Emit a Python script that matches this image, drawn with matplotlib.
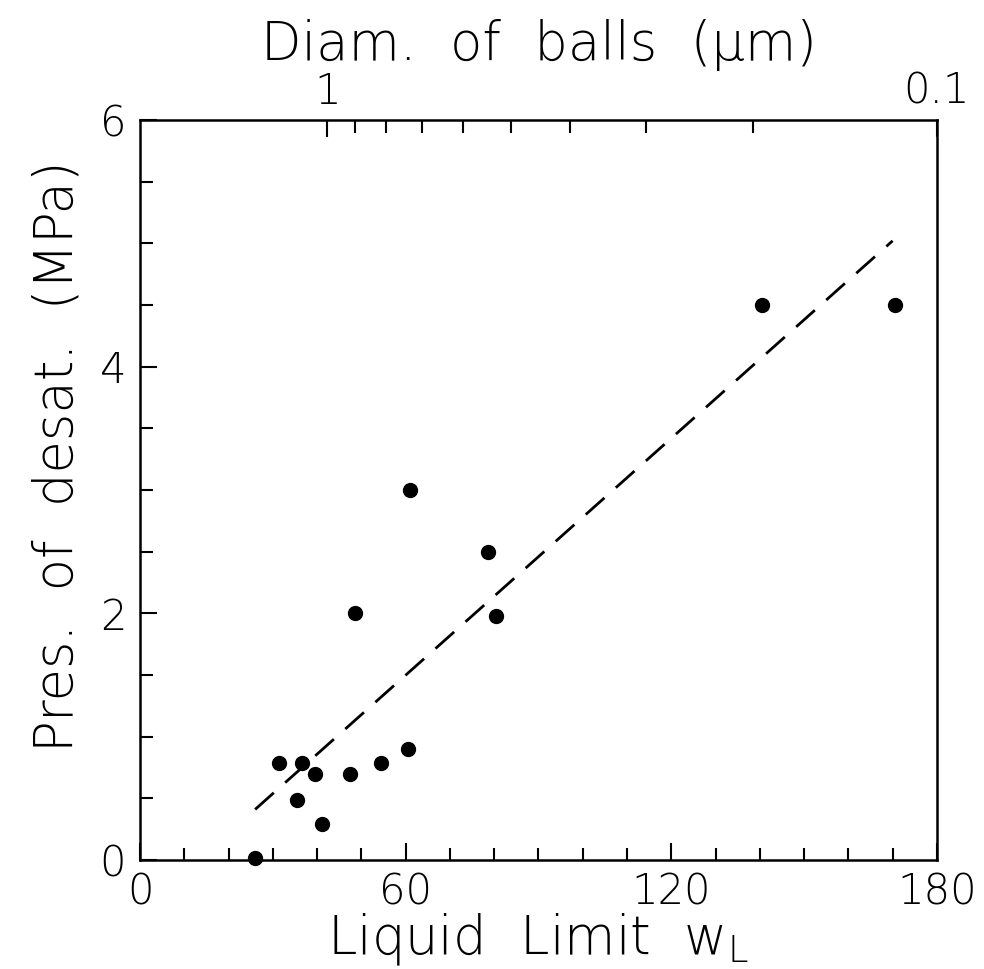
import numpy as np
import matplotlib
matplotlib.use('Agg')
import matplotlib.pyplot as plt

matplotlib.rcParams.update({
    'font.family': 'DejaVu Sans',
    'font.weight': 'light',
    'axes.labelweight': 'light',
    'font.size': 30,
})

# liquid limit (%) and pressure of desaturation (MPa)
liquid_limit = [26, 31.5, 35.5, 36.5, 39.5, 41, 47.5, 48.5, 54.5, 60.5, 61, 78.5, 80.5, 140.5, 170.5]
pres_desat = [0.02, 0.79, 0.49, 0.79, 0.70, 0.29, 0.70, 2.0, 0.79, 0.90, 3.0, 2.5, 1.98, 4.5, 4.5]

# dashed trend line end points
trend_x = [26, 170]
trend_y = [0.41, 5.02]

# top axis: ball diameter (um), log scale, d = 1 at wL = 42.3, d = 0.1 at wL = 180
d_left = 10 ** (42.3 / 137.7)
d_right = 0.1
top_major = [1, 0.1]
top_labels = ['1', '0.1']
top_minor = [0.9, 0.8, 0.7, 0.6, 0.5, 0.4, 0.3, 0.2]

rect = [0.1423, 0.1125, 0.8098, 0.7637]
fig = plt.figure(figsize=(9.84, 9.69), dpi=100)
ax = fig.add_axes(rect)

ax.plot(trend_x, trend_y, color='black', lw=2.0, linestyle=(0, (9, 5.5)))
ax.plot(liquid_limit, pres_desat, 'o', color='black', markersize=10, clip_on=False)

ax.set_xlim(0, 180)
ax.set_ylim(0, 6)
ax.set_xticks([0, 60, 120, 180])
ax.set_xticks(np.arange(0, 181, 10), minor=True)
ax.set_yticks([0, 2, 4, 6])
ax.set_yticks(np.arange(0, 6.01, 0.5), minor=True)
ax.tick_params(which='both', direction='in', width=1.5, colors='black',
               top=False, right=False, labeltop=False, labelright=False)
ax.tick_params(which='major', length=12)
ax.tick_params(which='minor', length=9)
ax.tick_params(axis='x', pad=8)
ax.tick_params(axis='y', pad=10)
for s in ax.spines.values():
    s.set_linewidth(1.8)

ax.set_xlabel('Liquid  Limit  w$_\\mathregular{L}$', fontsize=38, labelpad=0)
ax.set_ylabel('Pres.  of  desat.  (MPa)', fontsize=38)
ax.yaxis.set_label_coords(-0.07, 0.545)

# separate overlay axes for the ball diameter scale on top
ax2 = fig.add_axes(rect, frameon=False)
ax2.patch.set_visible(False)
ax2.set_xscale('log')
ax2.set_xlim(d_left, d_right)
ax2.xaxis.set_ticks_position('top')
ax2.xaxis.set_label_position('top')
ax2.set_xticks(top_major)
ax2.set_xticklabels(top_labels)
ax2.set_xticks(top_minor, minor=True)
ax2.xaxis.set_minor_formatter(matplotlib.ticker.NullFormatter())
ax2.set_yticks([])
ax2.tick_params(which='both', direction='in', width=1.5, pad=6, bottom=False, labelbottom=False)
ax2.tick_params(which='major', length=12)
ax2.tick_params(which='minor', length=9)
ax2.set_xlabel('Diam.  of  balls  (μm)', fontsize=38, labelpad=8)

plt.savefig('out.png', dpi=100)
